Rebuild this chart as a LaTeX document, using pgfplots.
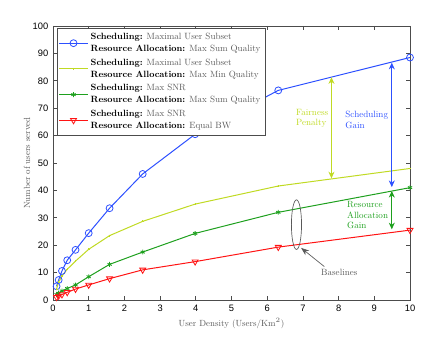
\documentclass[border=0pt]{standalone}
\usepackage{pgfplots}
\pgfplotsset{compat=1.18}
\usepackage{fontspec}
\setmainfont{lmroman10-regular.otf}[BoldFont=lmroman10-bold.otf, ItalicFont=lmroman10-italic.otf]
\newfontfamily\ticksf{Liberation Sans}
\usetikzlibrary{arrows.meta,calc}
\definecolor{cblue}{RGB}{45,80,255}
\definecolor{cyel}{RGB}{192,218,35}
\definecolor{cgreen}{RGB}{30,160,30}
\definecolor{cred}{RGB}{255,20,20}
\definecolor{txtgray}{RGB}{90,90,90}
\begin{document}
\begin{tikzpicture}
\begin{axis}[
  scale only axis, width=267.75pt, height=205.5pt,
  xmin=0, xmax=10, ymin=0, ymax=100,
  xtick={0,1,...,10}, ytick={0,10,...,100},
  tick align=inside, tick pos=both,
  major tick length=3pt,
  axis line style={black!70, line width=0.7pt}, every tick/.style={black!70, line width=0.5pt},
  /pgf/number format/assume math mode=true,
  tick label style={font=\ticksf\fontsize{7}{8}\selectfont},
  xlabel={User Density (Users/Km$^2$)},
  ylabel={Number of users served},
  label style={font=\fontsize{6.7}{7.5}\selectfont, text=txtgray},
  xlabel style={yshift=2pt},
  ylabel style={yshift=-5pt},
  every axis plot/.append style={line width=0.75pt},
  legend style={at={(0.01,0.993)}, anchor=north west, draw=black!70, line width=0.6pt,
    font=\fontsize{6.8}{9}\selectfont, cells={align=left}, row sep=0pt,
    inner sep=1.5pt},
  legend cell align=left,
  legend image code/.code={\draw[mark repeat=2,mark phase=2,#1] plot coordinates {(0cm,0cm) (0.37cm,0cm) (0.74cm,0cm)};},
]
\addplot[cblue, mark=o, mark size=2.6pt, mark options={fill=white, line width=0.6pt}] coordinates {
(0.1,5.0) (0.158,7.3) (0.251,10.6) (0.398,14.5) (0.631,18.3) (1,24.4) (1.585,33.5) (2.512,46) (3.981,60.5) (6.31,76.5) (10,88.5)};
\addlegendentry{\textbf{Scheduling:} \textcolor{txtgray}{Maximal User Subset}\\\textbf{Resource Allocation:} \textcolor{txtgray}{Max Sum Quality}}
\addplot[cyel, mark=+, mark size=0.7pt] coordinates {
(0.1,4.0) (0.158,6.5) (0.251,8.7) (0.398,11.2) (0.631,14.2) (1,18.5) (1.585,23.5) (2.512,28.7) (3.981,35) (6.31,41.6) (10,48)};
\addlegendentry{\textbf{Scheduling:} \textcolor{txtgray}{Maximal User Subset}\\\textbf{Resource Allocation:} \textcolor{txtgray}{Max Min Quality}}
\addplot[cgreen, mark=asterisk, mark size=1.8pt, mark options={line width=0.6pt}] coordinates {
(0.1,2.0) (0.158,2.5) (0.251,3.3) (0.398,4.2) (0.631,5.5) (1,8.5) (1.585,13) (2.512,17.5) (3.981,24.3) (6.31,32) (10,41)};
\addlegendentry{\textbf{Scheduling:} \textcolor{txtgray}{Max SNR}\\\textbf{Resource Allocation:} \textcolor{txtgray}{Max Sum Quality}}
\addplot[cred, mark=triangle, mark size=2.6pt, mark options={rotate=180, fill=white, line width=0.6pt}] coordinates {
(0.1,1.0) (0.158,1.5) (0.251,2.0) (0.398,2.8) (0.631,4.0) (1,5.5) (1.585,7.8) (2.512,11) (3.981,14) (6.31,19.3) (10,25.5)};
\addlegendentry{\textbf{Scheduling:} \textcolor{txtgray}{Max SNR}\\\textbf{Resource Allocation:} \textcolor{txtgray}{Equal BW}}
% annotations
\draw[cyel, line width=0.6pt, {Stealth[length=5pt,width=4.5pt]}-{Stealth[length=5pt,width=4.5pt]}] (axis cs:7.8,81.3) -- (axis cs:7.8,44.4);
\node[cyel, anchor=west, align=left, font=\fontsize{6.8}{8.2}\selectfont] at (axis cs:6.68,66.3) {Fairness\\Penalty};
\draw[cblue, line width=0.6pt, {Stealth[length=5pt,width=4.5pt]}-{Stealth[length=5pt,width=4.5pt]}] (axis cs:9.49,86.6) -- (axis cs:9.49,41.2);
\node[cblue, anchor=west, align=left, font=\fontsize{6.8}{8.2}\selectfont] at (axis cs:8.06,65.6) {Scheduling\\Gain};
\draw[cgreen, line width=0.6pt, {Stealth[length=5pt,width=4.5pt]}-{Stealth[length=5pt,width=4.5pt]}] (axis cs:9.49,39.8) -- (axis cs:9.49,25.8);
\node[cgreen, anchor=west, align=left, font=\fontsize{6.8}{8.2}\selectfont] at (axis cs:8.11,31) {Resource\\Allocation\\Gain};
\draw[black!65, line width=0.5pt] (axis cs:6.82,27.5) ellipse [x radius=3.8pt, y radius=18.6pt];
\node[txtgray, font=\fontsize{6.8}{8}\selectfont] (bl) at (axis cs:8.02,10) {Baselines};
\draw[black!65, line width=0.5pt, -{Stealth[length=6pt,width=4.5pt]}] (axis cs:7.6,12.2) -- (axis cs:6.95,19.0);
\end{axis}
\pgfresetboundingbox
\path[use as bounding box] ($(current axis.south west)+(-39.75pt,-28.5pt)$) rectangle ($(current axis.north east)+(24pt,19.5pt)$);
\end{tikzpicture}
\end{document}
